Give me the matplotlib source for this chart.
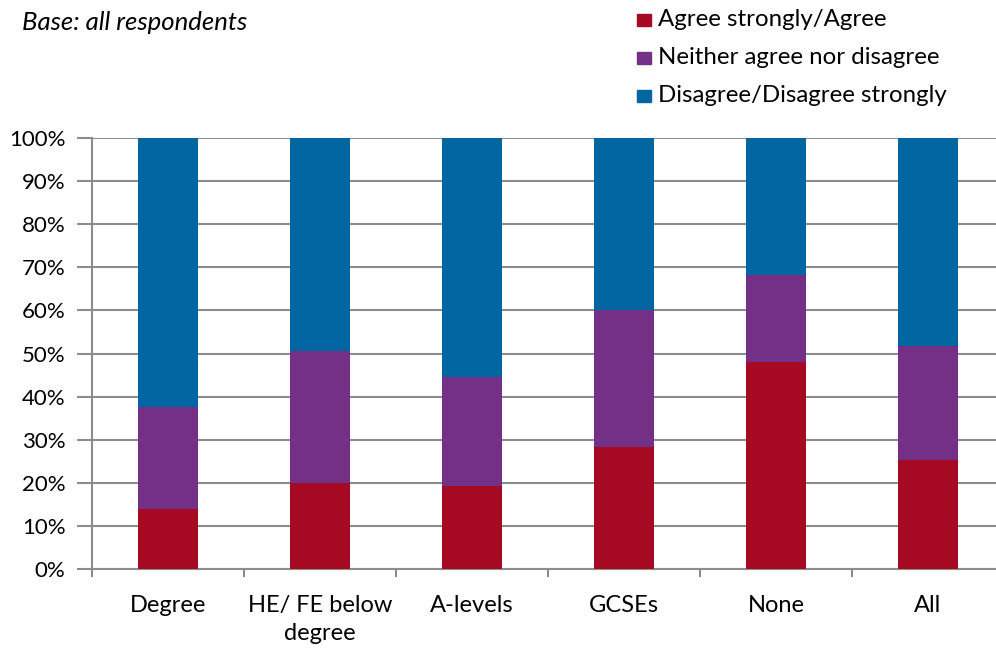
import numpy as np
import matplotlib.pyplot as plt
from matplotlib.patches import Rectangle

categories = ["Degree", "HE/ FE below\ndegree", "A-levels", "GCSEs", "None", "All"]
agree = [13.9, 20.0, 19.2, 28.3, 48.1, 25.4]
neither = [23.7, 30.5, 25.4, 31.8, 20.2, 26.3]
disagree = [100 - a - n for a, n in zip(agree, neither)]
series_names = ["Agree strongly/Agree", "Neither agree nor disagree", "Disagree/Disagree strongly"]
colors = ["#A60A22", "#742F87", "#0066A2"]

plt.rcParams['font.family'] = ['Lato', 'DejaVu Sans']

W, H = 996, 651
fig = plt.figure(figsize=(W / 100, H / 100), dpi=100)
ax = fig.add_axes([92 / W, 82 / H, 912 / W, 431 / H])

x = np.arange(len(categories))
bottom = np.zeros(len(categories))
for vals, c in zip([agree, neither, disagree], colors):
    ax.bar(x, vals, width=0.395, bottom=bottom, color=c, zorder=3)
    bottom += np.array(vals)

ax.set_xlim(-0.5, len(categories) - 0.5)
ax.set_ylim(0, 100)
ax.set_yticks(np.arange(0, 101, 10))
ax.set_yticklabels([f"{v}%" for v in range(0, 101, 10)], fontsize=16)
ax.yaxis.grid(True, color="#8c8c8c", linewidth=1.5, zorder=0)
ax.set_axisbelow(True)

ax.set_xticks(x)
ax.set_xticklabels(categories, fontsize=17, linespacing=1.4)
ax.tick_params(axis="x", length=0, pad=19)
ax.set_xticks(np.arange(-0.5, len(categories)), minor=True)
ax.tick_params(axis="x", which="minor", length=6, width=1.5, color="#8c8c8c")
ax.tick_params(axis="y", length=11, width=1.5, color="#8c8c8c", pad=8)

for s in ["top", "right"]:
    ax.spines[s].set_visible(False)
for s in ["left", "bottom"]:
    ax.spines[s].set_color("#8c8c8c")
    ax.spines[s].set_linewidth(1.5)

fig.text(22 / W, 1 - 22 / H, "Base: all respondents", fontsize=18.5, style="italic",
         va="center", ha="left")

# legend drawn by hand to match the layout
for i, (name, c) in enumerate(zip(series_names, colors)):
    yc = 20 + i * 38
    fig.patches.append(Rectangle((637 / W, 1 - (yc + 6) / H), 14 / W, 12 / H,
                                 transform=fig.transFigure, color=c))
    fig.text(658 / W, 1 - yc / H, name, fontsize=17.3, va="center", ha="left")

fig.savefig("out.png", dpi=100)
